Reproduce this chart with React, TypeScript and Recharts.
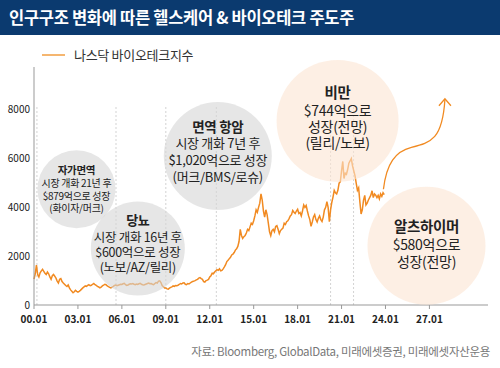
import React from "react";
import {
  LineChart,
  Line,
  XAxis,
  YAxis,
  ReferenceLine,
  ReferenceDot,
  Legend,
} from "recharts";

const FONT = "'Noto Sans CJK KR', 'Noto Sans', sans-serif";

const title = "인구구조 변화에 따른 헬스케어 & 바이오테크 주도주";
const seriesName = "나스닥 바이오테크지수";
const source = "자료: Bloomberg, GlobalData, 미래에셋증권, 미래에셋자산운용";

// monthly samples of the index, 2000.01 ~ 2023.12
const startYear = 2000;
const stepsPerYear = 12;
const nbiValues = [
  1060, 1280, 1630, 1250, 1150, 1320, 1400, 1460, 1380, 1300, 1250, 1350,
  1280, 1150, 1050, 1200, 1250, 1180, 1100, 980, 900, 1050, 1080, 960,
  900, 850, 800, 760, 820, 700, 620, 560, 500, 540, 600, 560,
  530, 560, 600, 650, 700, 740, 780, 760, 800, 830, 790, 810,
  850, 880, 830, 800, 760, 740, 700, 730, 780, 810, 850, 830,
  780, 750, 720, 700, 730, 760, 800, 820, 790, 810, 830, 850,
  840, 870, 890, 830, 800, 820, 850, 870, 860, 880, 850, 830,
  860, 840, 870, 890, 850, 830, 820, 840, 860, 880, 900, 870,
  880, 850, 830, 880, 920, 900, 980, 990, 920, 800, 750, 700,
  700, 660, 650, 690, 720, 740, 780, 760, 800, 790, 810, 840,
  880, 860, 900, 910, 850, 830, 880, 860, 900, 940, 960, 980,
  1000, 1030, 1050, 1100, 1120, 1080, 1050, 960, 940, 1000, 1020, 1050,
  1150, 1200, 1300, 1280, 1350, 1400, 1450, 1420, 1480, 1400, 1420, 1480,
  1560, 1650, 1780, 1830, 1900, 1950, 2050, 2080, 2150, 2250, 2300, 2400,
  2600, 3100, 2850, 2730, 2800, 2850, 2950, 3100, 3050, 3200, 3350, 3300,
  3450, 3650, 3900, 3800, 4000, 4170, 4550, 4300, 3850, 3600, 3900, 3700,
  3350, 3000, 2840, 3050, 3100, 3000, 3220, 3250, 3100, 2920, 3050, 3100,
  3150, 3350, 3300, 3410, 3450, 3540, 3650, 3700, 3870, 3800, 3750, 3850,
  3920, 3750, 3790, 3650, 3850, 4100, 4000, 4080, 3850, 3650, 3500, 3220,
  3400, 3600, 3700, 3500, 3400, 3550, 3650, 3500, 3420, 3600, 3900, 4000,
  4230, 4000, 3410, 3900, 4200, 4420, 4700, 4600, 4550, 4700, 4990, 5050,
  5500, 5880, 5180, 5400, 5350, 5550, 5810, 5900, 6000, 5700, 5500, 5300,
  4990, 4700, 4800, 4230, 3730, 3900, 4300, 4490, 4100, 4170, 4300, 4400,
  4500, 4680, 4400, 4550, 4500, 4400, 4490, 4350, 4550, 4450, 4600, 4520,
];

const xTicks = [2000, 2003, 2006, 2009, 2012, 2015, 2018, 2021, 2024, 2027];
const yTicks = [0, 2000, 4000, 6000, 8000];

// market opening dates (dashed guides)
const guideYears = [2000.2, 2005.6, 2009.0, 2012.45, 2020.25, 2021.82];

const bubbles = [
  {
    year: 2002.9, value: 4740, r: 39, tone: "gray", size: 10,
    lines: ["자가면역", "시장 개화 21년 후", "$879억으로 성장", "(화이자/머크)"],
    dy: [-19, -5.5, 7.5, 19.5],
  },
  {
    year: 2007.09, value: 2312, r: 47, tone: "gray", size: 12.5,
    lines: ["당뇨", "시장 개화 16년 후", "$600억으로 성장", "(노보/AZ/릴리)"],
    dy: [-28, -10.5, 4.5, 19.5],
  },
  {
    year: 2012.55, value: 6100, r: 54, tone: "gray", size: 13,
    lines: ["면역 항암", "시장 개화 7년 후", "$1,020억으로 성장", "(머크/BMS/로슈)"],
    dy: [-29, -12.5, 4, 21.5],
  },
  {
    year: 2020.73, value: 7540, r: 61, tone: "peach", size: 14,
    lines: ["비만", "$744억으로", "성장(전망)", "(릴리/노보)"],
    dy: [-28, -10, 6, 22],
  },
  {
    year: 2026.8, value: 2426, r: 59, tone: "peach", size: 14,
    lines: ["알츠하이머", "$580억으로", "성장(전망)"],
    dy: [-19, -1, 16],
  },
];

const arrowStart = { year: 2023.86, value: 4740 };

const chartData = nbiValues.map((v, i) => ({
  year: startYear + i / stepsPerYear,
  nbi: v,
}));

const bubbleShape = (b: (typeof bubbles)[number]) => (props: any) => {
  const { cx, cy } = props;
  const fill = b.tone === "gray" ? "#d6d6d6" : "#fbe4d2";
  return (
    <g>
      <circle cx={cx} cy={cy} r={b.r} fill={fill} fillOpacity={0.6} />
      {b.lines.map((t, i) => (
        <text
          key={i}
          x={cx}
          y={cy + b.dy[i]}
          dy="0.35em"
          textAnchor="middle"
          fontFamily={FONT}
          fontSize={i === 0 ? b.size + 0.5 : b.size}
          fontWeight={i === 0 ? 700 : 400}
          fill="#222"
          letterSpacing={-0.3}
        >
          {t}
        </text>
      ))}
    </g>
  );
};

const arrowShape = (props: any) => {
  const { cx, cy } = props;
  return (
    <g transform={`translate(${cx},${cy})`} fill="none" stroke="#f18a21" strokeWidth={1.3}>
      <path d="M0,0 C3,-26 12,-38 28,-42 C48,-47 59,-50 61.5,-90" />
      <path d="M55.5,-83.5 L61.5,-90.5 L67.5,-83.5" />
    </g>
  );
};

const LegendRow = () => (
  <div style={{ display: "flex", alignItems: "center", fontFamily: FONT }}>
    <div style={{ width: 23, height: 2, background: "#f5b670", marginRight: 9 }} />
    <span style={{ fontSize: 13, color: "#333", letterSpacing: -0.3 }}>{seriesName}</span>
  </div>
);

export default function App() {
  return (
    <div
      style={{
        position: "absolute",
        left: 0,
        top: 0,
        width: 500,
        height: 368,
        background: "#fff",
        overflow: "hidden",
        fontFamily: FONT,
      }}
    >
      <LineChart
        width={500}
        height={368}
        data={chartData}
        margin={{ top: 48, right: 12, bottom: 0, left: 0 }}
      >
        <XAxis
          dataKey="year"
          type="number"
          domain={[2000, 2031]}
          ticks={xTicks}
          tickFormatter={(y: number) => `${String(y % 100).padStart(2, "0")}.01`}
          height={63}
          tickSize={4}
          tickMargin={7}
          stroke="#999"
          tick={{ fontSize: 10, fill: "#222", fontFamily: FONT, fontWeight: 700 }}
          interval={0}
        />
        <YAxis
          type="number"
          domain={[0, 9750]}
          ticks={yTicks}
          width={34}
          tickLine={false}
          tickSize={0}
          tickMargin={4}
          stroke="#999"
          tick={{ fontSize: 10, fill: "#222", fontFamily: FONT }}
          allowDataOverflow
        />
        <Legend
          verticalAlign="top"
          align="left"
          content={() => <LegendRow />}
          wrapperStyle={{ top: 45, left: 42, width: 200 }}
        />
        {guideYears.map((g) => (
          <ReferenceLine
            key={g}
            segment={[
              { x: g, y: 0 },
              { x: g, y: 8150 },
            ]}
            stroke="#c8c8c8"
            strokeDasharray="2 2"
            strokeWidth={0.8}
          />
        ))}
        <Line
          type="linear"
          dataKey="nbi"
          stroke="#f18a21"
          strokeWidth={1.5}
          dot={false}
          isAnimationActive={false}
        />
        {bubbles.map((b) => (
          <ReferenceDot
            key={b.lines[0]}
            x={b.year}
            y={b.value}
            r={b.r}
            shape={bubbleShape(b)}
            ifOverflow="visible"
          />
        ))}
        <ReferenceDot
          x={arrowStart.year}
          y={arrowStart.value}
          r={1}
          shape={arrowShape}
          ifOverflow="visible"
        />
      </LineChart>

      <div
        style={{
          position: "absolute",
          left: 0,
          top: 0,
          width: 500,
          height: 35,
          background: "#0b3a6f",
          color: "#fff",
          fontSize: 16.5,
          fontWeight: 700,
          lineHeight: "35px",
          paddingLeft: 9,
          boxSizing: "border-box",
          letterSpacing: -0.3,
        }}
      >
        {title}
      </div>

      <div
        style={{
          position: "absolute",
          right: 10,
          top: 343,
          fontSize: 11.5,
          color: "#777",
          letterSpacing: -0.3,
        }}
      >
        {source}
      </div>
    </div>
  );
}
